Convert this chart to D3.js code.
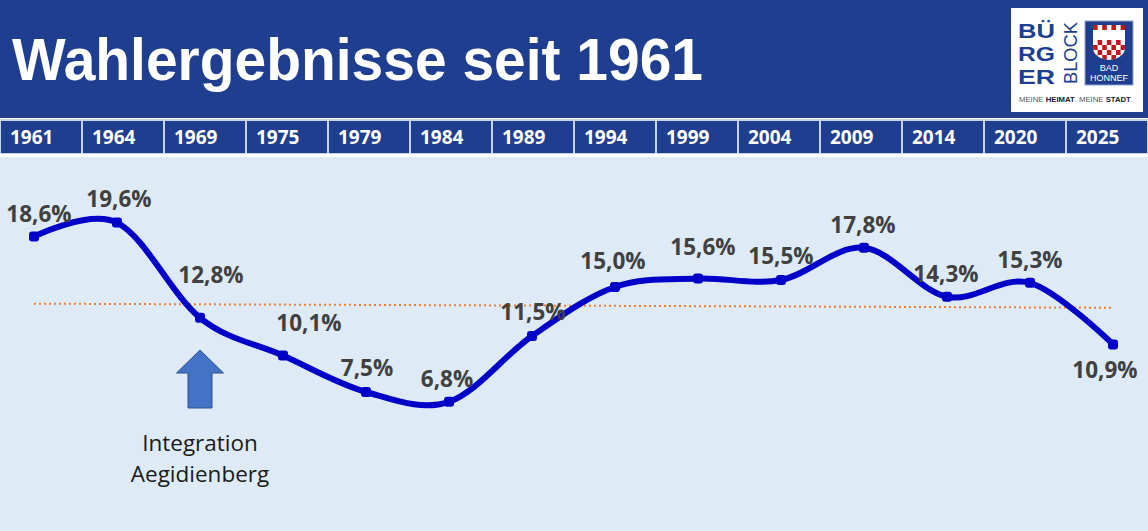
<!DOCTYPE html>
<html>
<head>
<meta charset="utf-8">
<script src="https://cdn.jsdelivr.net/npm/d3@7"></script>
<style>
	body { margin: 0; background: #ffffff; }
	svg { display: block; }
</style>
</head>
<body>
<svg id="chart"></svg>
<script>
// election years and results (percent)
const years = ["1961", "1964", "1969", "1975", "1979", "1984", "1989", "1994", "1999", "2004", "2009", "2014", "2020", "2025"];
const results = [18.6, 19.6, 12.8, 10.1, 7.5, 6.8, 11.5, 15.0, 15.6, 15.5, 17.8, 14.3, 15.3, 10.9];

const titleText = "Wahlergebnisse seit 1961";
const noteYear = "1969";
const noteLines = ["Integration", "Aegidienberg"];

// where each value label sits relative to its point [dx, dy]
const labelPlacement = [[5, -15], [2, -16], [11, -35], [26, -25], [1, -16], [-2, -15], [1, -16],
	[-2, -18], [5, -24], [0, -16], [-1, -15], [-1, -15], [0, -15], [-8, 34]];

const width = 1148, height = 531;
const headerBlue = "#203e8f";
const lineBlue = "#0000c8";

const svg = d3.select("#chart")
	.attr("width", width)
	.attr("height", height);

// backgrounds
svg.append("rect").attr("width", width).attr("height", height).attr("fill", "#deeaf6");
svg.append("rect").attr("width", width).attr("height", 157).attr("fill", "#ffffff");
svg.append("rect").attr("x", 0).attr("y", 0).attr("width", width).attr("height", 118).attr("fill", headerBlue);

svg.append("text")
	.text(titleText)
	.attr("x", 12)
	.attr("y", 80)
	.attr("fill", "#ffffff")
	.attr("font-family", "Liberation Sans, Arial, sans-serif")
	.attr("font-weight", 700)
	.attr("font-size", 59)
	.attr("textLength", 691)
	.attr("lengthAdjust", "spacingAndGlyphs");

// year strip
const yearBand = d3.scaleBand()
	.domain(years)
	.range([0, width]);

svg.append("rect")
	.attr("x", 0).attr("y", 119)
	.attr("width", width).attr("height", 35)
	.attr("fill", "#c9d3e6");

svg.selectAll(".yearcell")
	.data(years)
	.join("rect")
	.attr("class", "yearcell")
	.attr("x", d => yearBand(d) + 1)
	.attr("y", 121)
	.attr("width", yearBand.bandwidth() - 2)
	.attr("height", 32)
	.attr("fill", headerBlue);

svg.selectAll(".yearlabel")
	.data(years)
	.join("text")
	.attr("class", "yearlabel")
	.text(d => d)
	.attr("x", d => yearBand(d) + 10)
	.attr("y", 144)
	.attr("fill", "#ffffff")
	.attr("font-family", "Open Sans, sans-serif")
	.attr("font-weight", 700)
	.attr("font-size", 19);

// chart scales
const xScale = d3.scalePoint()
	.domain(years)
	.range([34, 1113]);

const yScale = d3.scaleLinear()
	.domain([0, 20])
	.range([497, 217]);

const points = years.map((y, i) => ({year: y, value: results[i], i: i}));

// linear trend through the results
const n = results.length;
const meanI = (n - 1) / 2;
const meanV = d3.mean(results);
const slope = d3.sum(points, d => (d.i - meanI) * (d.value - meanV)) / d3.sum(points, d => (d.i - meanI) ** 2);
const trend = [points[0], points[n - 1]].map(d => ({year: d.year, value: meanV + slope * (d.i - meanI)}));

svg.append("path")
	.datum(trend)
	.attr("fill", "none")
	.attr("stroke", "#ed7d31")
	.attr("stroke-width", 2)
	.attr("stroke-dasharray", "2,3")
	.attr("d", d3.line().x(d => xScale(d.year)).y(d => yScale(d.value)));

// smoothed results line
svg.append("path")
	.datum(points)
	.attr("fill", "none")
	.attr("stroke", lineBlue)
	.attr("stroke-width", 6)
	.attr("stroke-linejoin", "round")
	.attr("d", d3.line()
		.x(d => xScale(d.year))
		.y(d => yScale(d.value))
		.curve(d3.curveCardinal.tension(0)));

svg.selectAll(".marker")
	.data(points)
	.join("rect")
	.attr("class", "marker")
	.attr("x", d => xScale(d.year) - 5)
	.attr("y", d => yScale(d.value) - 5)
	.attr("width", 10)
	.attr("height", 10)
	.attr("rx", 3)
	.attr("fill", lineBlue);

const fmt = d3.format(".1f");

svg.selectAll(".valuelabel")
	.data(points)
	.join("text")
	.attr("class", "valuelabel")
	.text(d => fmt(d.value).replace(".", ",") + "%")
	.attr("x", d => xScale(d.year) + labelPlacement[d.i][0])
	.attr("y", d => yScale(d.value) + labelPlacement[d.i][1])
	.attr("text-anchor", "middle")
	.attr("fill", "#404040")
	.attr("font-family", "Open Sans, sans-serif")
	.attr("font-weight", 700)
	.attr("font-size", 22.5);

// arrow + note under 1969
const ax = xScale(noteYear);
const arrow = d3.path();
arrow.moveTo(ax, 350);
arrow.lineTo(ax + 23.5, 373);
arrow.lineTo(ax + 12, 373);
arrow.lineTo(ax + 12, 408);
arrow.lineTo(ax - 12, 408);
arrow.lineTo(ax - 12, 373);
arrow.lineTo(ax - 23.5, 373);
arrow.closePath();

svg.append("path")
	.attr("d", arrow.toString())
	.attr("fill", "#4472c4")
	.attr("stroke", "#2f528f")
	.attr("stroke-width", 1);

svg.selectAll(".note")
	.data(noteLines)
	.join("text")
	.attr("class", "note")
	.text(d => d)
	.attr("x", ax)
	.attr("y", (d, i) => 451 + i * 31)
	.attr("text-anchor", "middle")
	.attr("fill", "#1a1a1a")
	.attr("font-family", "Open Sans, sans-serif")
	.attr("font-size", 22.5);

// logo
const logo = svg.append("g");
logo.append("rect")
	.attr("x", 1011).attr("y", 8)
	.attr("width", 132).attr("height", 104)
	.attr("fill", "#ffffff");

logo.selectAll(".logoword")
	.data(["BÜ", "RG", "ER"])
	.join("text")
	.attr("class", "logoword")
	.text(d => d)
	.attr("x", 1018)
	.attr("y", (d, i) => 38 + i * 23)
	.attr("fill", headerBlue)
	.attr("font-family", "Liberation Sans, Arial, sans-serif")
	.attr("font-weight", 700)
	.attr("font-size", 20)
	.attr("textLength", 37)
	.attr("lengthAdjust", "spacingAndGlyphs");

logo.append("text")
	.text("BLOCK")
	.attr("transform", "translate(1077,84) rotate(-90)")
	.attr("fill", headerBlue)
	.attr("font-family", "Liberation Sans, Arial, sans-serif")
	.attr("font-size", 19)
	.attr("textLength", 62)
	.attr("lengthAdjust", "spacingAndGlyphs");

logo.append("rect")
	.attr("x", 1085).attr("y", 21)
	.attr("width", 48).attr("height", 64)
	.attr("fill", headerBlue)
	.attr("stroke", "#8fa2cc")
	.attr("stroke-width", 1);

const crest = "M1093,25 H1125 V47 Q1125,58 1109,60 Q1093,58 1093,47 Z";
logo.append("clipPath").attr("id", "crestclip")
	.append("path").attr("d", crest);
logo.append("path").attr("d", crest).attr("fill", "#ffffff");

const checks = [];
for (let r = 0; r < 7; r++)
	for (let c = 0; c < 7; c++)
		if ((r + c) % 2 == 0 && (r == 0 || r >= 3)) checks.push([1093 + c * 4.6, 25 + r * 5]);

logo.append("g")
	.attr("clip-path", "url(#crestclip)")
	.selectAll("rect")
	.data(checks)
	.join("rect")
	.attr("x", d => d[0])
	.attr("y", d => d[1])
	.attr("width", 4.6)
	.attr("height", 5)
	.attr("fill", "#c4161c");

logo.selectAll(".town")
	.data(["BAD", "HONNEF"])
	.join("text")
	.attr("class", "town")
	.text(d => d)
	.attr("x", 1109)
	.attr("y", (d, i) => 71 + i * 10)
	.attr("text-anchor", "middle")
	.attr("fill", "#ffffff")
	.attr("font-family", "Liberation Sans, Arial, sans-serif")
	.attr("font-size", 9);

const slogan = logo.append("text")
	.attr("x", 1019)
	.attr("y", 102)
	.attr("fill", "#555555")
	.attr("font-family", "Liberation Sans, Arial, sans-serif")
	.attr("font-size", 7)
	.attr("textLength", 114)
	.attr("lengthAdjust", "spacingAndGlyphs");
slogan.append("tspan").text("MEINE ");
slogan.append("tspan").text("HEIMAT").attr("font-weight", 700).attr("fill", "#222");
slogan.append("tspan").text(". MEINE ");
slogan.append("tspan").text("STADT").attr("font-weight", 700).attr("fill", "#222");
slogan.append("tspan").text(".");
</script>
</body>
</html>
